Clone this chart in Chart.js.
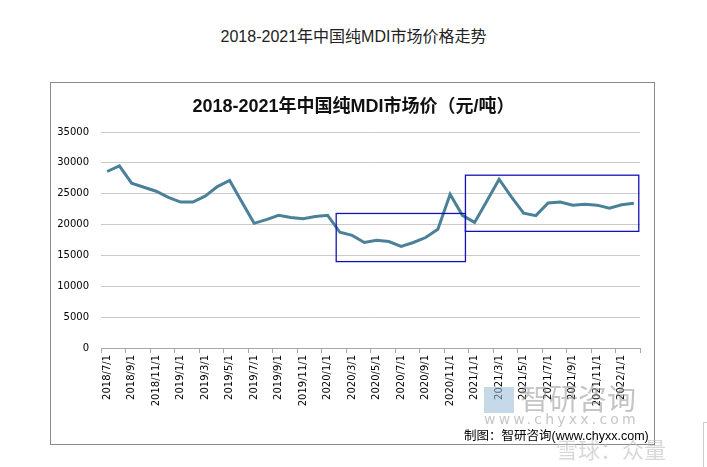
<!DOCTYPE html>
<html>
<head>
<meta charset="utf-8">
<script src="https://cdn.jsdelivr.net/npm/chart.js@4/dist/chart.umd.min.js"></script>
<style>
  html, body { margin: 0; padding: 0; background: #fff; }
  #page { position: relative; width: 707px; height: 467px; overflow: hidden; background: #fff; }
  #outerTitle { position: absolute; left: 0; width: 707px; top: 27px; text-align: center;
    font: 16px "Liberation Sans", "Noto Sans CJK SC", sans-serif; color: #222; line-height: 20px; }
  #frame { position: absolute; left: 50px; top: 82px; width: 603px; height: 361px; border: 1px solid #8a8a8a; }
  #innerTitle { position: absolute; left: 0; width: 707px; top: 94px; text-align: center;
    font: bold 18px "Liberation Sans", "Noto Sans CJK SC", sans-serif; color: #111; line-height: 24px; }
  #wrap { position: absolute; left: 0; top: 0; width: 707px; height: 467px; }
  #credit { position: absolute; left: 464px; top: 426px; font: 12.5px "Noto Sans CJK SC", sans-serif; color: #000; line-height: 18px; white-space: nowrap; }
  #credit span { font-family: "Liberation Sans", sans-serif; font-size: 12.5px; }
  #wm1 { position: absolute; left: 484px; top: 380px; font: 29px "Noto Sans CJK SC", sans-serif; color: rgba(150,150,150,0.55); line-height: 34px; white-space: nowrap; }
  #wm1 b { display: inline-block; width: 30px; height: 26px; background: rgba(150,185,215,0.55); margin-right: 6px; vertical-align: -3px; }
  #wm2 { position: absolute; left: 484px; top: 410px; font: 14px "DejaVu Sans", sans-serif; color: rgba(160,160,160,0.6); letter-spacing: 3.2px; line-height: 18px; white-space: nowrap; }
  #wm3 { position: absolute; left: 556px; top: 436px; font: 22px "Noto Sans CJK SC", sans-serif; color: rgba(190,190,190,0.6); line-height: 24px; white-space: nowrap; }
  #rbar { position: absolute; left: 703px; top: 422px; width: 4px; height: 45px; border-left: 1px solid #ccc; border-top: 1px solid #ccc; }
</style>
</head>
<body>
<div id="page">
  <div id="outerTitle">2018-2021年中国纯MDI市场价格走势</div>
  <div id="frame"></div>
  <div id="wrap"><canvas id="c" width="707" height="467"></canvas></div>
  <div id="innerTitle">2018-2021年中国纯MDI市场价（元/吨）</div>
  <div id="wm1"><b></b>智研咨询</div>
  <div id="wm2">www.chyxx.com</div>
  <div id="credit">制图：智研咨询<span>(www.chyxx.com)</span></div>
  <div id="wm3">雪球：众量</div>
  <div id="rbar"></div>
</div>
<script>
// Categories (monthly, 2018/7 – 2022/2)
const months = [
  "2018/7/1","2018/8/1","2018/9/1","2018/10/1","2018/11/1","2018/12/1",
  "2019/1/1","2019/2/1","2019/3/1","2019/4/1","2019/5/1","2019/6/1",
  "2019/7/1","2019/8/1","2019/9/1","2019/10/1","2019/11/1","2019/12/1",
  "2020/1/1","2020/2/1","2020/3/1","2020/4/1","2020/5/1","2020/6/1",
  "2020/7/1","2020/8/1","2020/9/1","2020/10/1","2020/11/1","2020/12/1",
  "2021/1/1","2021/2/1","2021/3/1","2021/4/1","2021/5/1","2021/6/1",
  "2021/7/1","2021/8/1","2021/9/1","2021/10/1","2021/11/1","2021/12/1",
  "2022/1/1","2022/2/1"
];
// Pure MDI market price (yuan/ton)
const prices = [
  28600, 29500, 26700, 26050, 25400, 24400,
  23650, 23650, 24600, 26150, 27150, 23650,
  20200, 20800, 21500, 21150, 20950, 21300,
  21500, 18750, 18250, 17100, 17450, 17250,
  16450, 17100, 17900, 19250, 24900, 21500,
  20350, 23800, 27350, 24500, 21850, 21450,
  23500, 23650, 23150, 23300, 23150, 22650,
  23200, 23450
];
// Y-axis tick values
const yTicks = [0, 5000, 10000, 15000, 20000, 25000, 30000, 35000];
// Highlight boxes in data units (category index span, price span)
const boxFrom = [18.7, 29.25];
const boxTo   = [29.25, 43.4];
const boxLow  = [14000, 18900];
const boxHigh = [21800, 28000];

const boxPlugin = {
  id: 'boxes',
  afterDatasetsDraw(chart) {
    const { ctx, scales: { x, y } } = chart;
    ctx.save();
    ctx.strokeStyle = '#1414b4';
    ctx.lineWidth = 1.3;
    for (let i = 0; i < boxFrom.length; i++) {
      const x0 = x.getPixelForValue(boxFrom[i]);
      const x1 = x.getPixelForValue(boxTo[i]);
      const y0 = y.getPixelForValue(boxHigh[i]);
      const y1 = y.getPixelForValue(boxLow[i]);
      ctx.strokeRect(x0, y0, x1 - x0, y1 - y0);
    }
    ctx.restore();
  }
};

new Chart(document.getElementById('c'), {
  type: 'line',
  data: {
    labels: months,
    datasets: [{
      data: prices,
      borderColor: '#4b8099',
      borderWidth: 3,
      pointRadius: 0,
      tension: 0,
      fill: false
    }]
  },
  options: {
    responsive: false,
    animation: false,
    devicePixelRatio: 1,
    layout: { padding: { left: 51, right: 67, top: 132, bottom: 59 } },
    plugins: { legend: { display: false }, title: { display: false }, tooltip: { enabled: false } },
    scales: {
      x: {
        type: 'category',
        offset: true,
        grid: {
          offset: true,
          drawOnChartArea: false,
          drawTicks: true,
          tickLength: 5,
          color: (ctx) => (ctx.index === undefined || ctx.index % 2 === 0) ? '#a8a8a8' : 'rgba(0,0,0,0)'
        },
        border: { display: true, color: '#a8a8a8', width: 1 },
        ticks: {
          autoSkip: false,
          maxRotation: 90,
          minRotation: 90,
          padding: 2,
          color: '#000',
          font: { family: 'DejaVu Sans', size: 10 },
          callback: (v, i) => (i % 2 === 0 ? months[i] : '')
        },
        afterFit: (s) => { s.height = 60; }
      },
      y: {
        min: 0,
        max: 35000,
        afterBuildTicks: (s) => { s.ticks = yTicks.map(v => ({ value: v })); },
        grid: { color: '#cacaca', drawTicks: false, lineWidth: 1 },
        border: { display: false },
        ticks: {
          padding: 12,
          color: '#000',
          font: { family: 'DejaVu Sans', size: 10 },
          callback: (v) => String(v)
        },
        afterFit: (s) => { s.width = 50; }
      }
    }
  },
  plugins: [boxPlugin]
});
</script>
</body>
</html>
